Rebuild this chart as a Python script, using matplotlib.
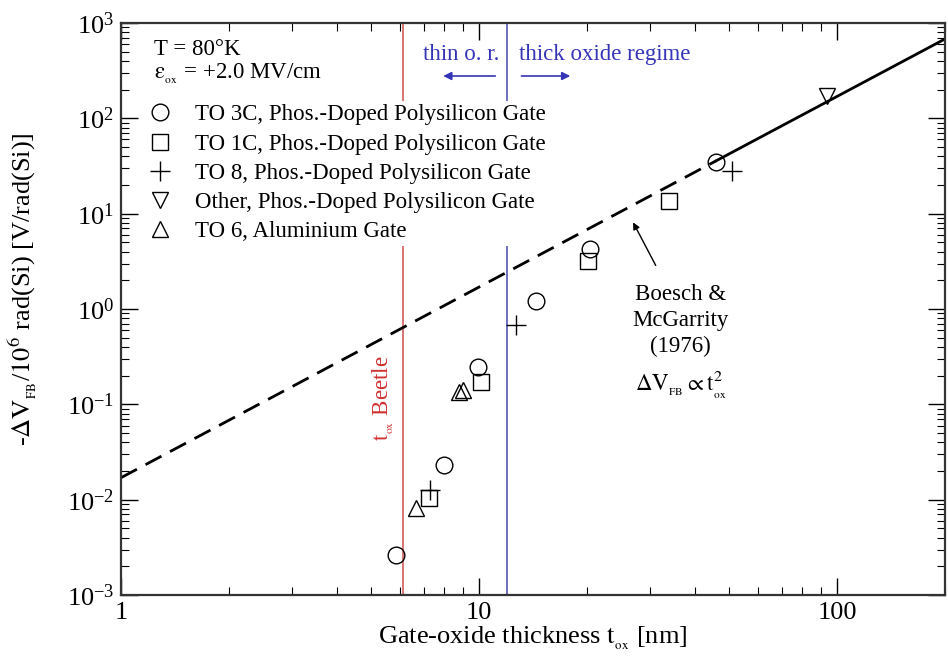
import numpy as np
import matplotlib as mpl
mpl.use('Agg')
import matplotlib.pyplot as plt

plt.rcParams['font.family'] = ['Liberation Serif', 'DejaVu Serif']
plt.rcParams['mathtext.fontset'] = 'stix'

# data (t_ox in nm, -dV_FB per Mrad in V)
to3c_x = [5.85, 8.0, 9.95, 14.4, 20.4, 46.0]
to3c_y = [0.0026, 0.023, 0.245, 1.2, 4.3, 35.0]
to1c_x = [7.25, 10.1, 20.1, 34.0]
to1c_y = [0.0105, 0.17, 3.2, 13.5]
to8_x = [7.3, 12.7, 51.0]
to8_y = [0.0125, 0.68, 28.0]
other_x = [93.5]
other_y = [170.0]
to6_x = [6.65, 8.8, 9.0]
to6_y = [0.0082, 0.135, 0.14]

# Boesch & McGarrity fit: dV ~ C * t^2
fit_c = 0.017
fit_dash_x = [1.0, 46.0]
fit_solid_x = [46.0, 200.0]

t_beetle = 6.15
t_thick = 12.0

fig = plt.figure(figsize=(9.48, 6.61), dpi=100)
ax = fig.add_axes([0.1276, 0.0998, 0.8692, 0.8654])
ax.set_xscale('log')
ax.set_yscale('log')
ax.set_xlim(1, 200)
ax.set_ylim(1e-3, 1e3)

xd = np.geomspace(*fit_dash_x, 50)
xs = np.geomspace(*fit_solid_x, 50)
ax.plot(xd, fit_c * xd**2, color='black', lw=2, ls=(0, (6.5, 3.5)), zorder=2)
ax.plot(xs, fit_c * xs**2, color='black', lw=2, zorder=2)

ax.axvline(t_beetle, color='#d05050', lw=1.1, zorder=1)
ax.axvline(t_thick, color='#4848b0', lw=1.1, zorder=1)

mk = dict(mfc='none', mec='black', mew=1.0, ls='none', ms=12, zorder=3)
ax.plot(to3c_x, to3c_y, marker='o', label='TO 3C, Phos.-Doped Polysilicon Gate', **mk)
ax.plot(to1c_x, to1c_y, marker='s', label='TO 1C, Phos.-Doped Polysilicon Gate', **dict(mk, ms=11))
ax.plot(to8_x, to8_y, marker='+', label='TO 8, Phos.-Doped Polysilicon Gate', **dict(mk, ms=14))
ax.plot(other_x, other_y, marker='v', label='Other, Phos.-Doped Polysilicon Gate', **mk)
ax.plot(to6_x, to6_y, marker='^', label='TO 6, Aluminium Gate', **mk)

leg = ax.legend(loc='upper left', bbox_to_anchor=(0.027, 0.864), frameon=True,
                fontsize=16.5, handlelength=1.2, handletextpad=0.9,
                labelspacing=0.36, borderpad=0.15, borderaxespad=0)
leg.get_frame().set_facecolor('white')
leg.get_frame().set_edgecolor('none')
leg.get_frame().set_alpha(1)
leg.set_zorder(5)

ax.text(0.04, 0.953, 'T = 80°K', transform=ax.transAxes, fontsize=16.5, va='center')
ax.text(0.04, 0.911, r'$\mathrm{\varepsilon_{_{ox}}}$ = +2.0 MV/cm', transform=ax.transAxes,
        fontsize=16.5, va='center')

blue = '#3535b8'
ax.text(11.4, 462, 'thin o. r.', color=blue, fontsize=16.5, ha='right', va='center')
ax.text(12.9, 462, 'thick oxide regime', color=blue, fontsize=16.5, ha='left', va='center')
ax.annotate('', xy=(7.8, 278), xytext=(11.3, 278),
            arrowprops=dict(arrowstyle='-|>', color=blue, lw=1.2, mutation_scale=12))
ax.annotate('', xy=(18.3, 278), xytext=(12.9, 278),
            arrowprops=dict(arrowstyle='-|>', color=blue, lw=1.2, mutation_scale=12))

ax.text(5.4, 0.116, r'$\mathrm{t_{_{ox}}}$ Beetle', color='#d03030', fontsize=16.5,
        rotation=90, ha='center', va='center')

ax.annotate('', xy=(26.7, 8.6), xytext=(31.4, 2.7),
            arrowprops=dict(arrowstyle='-|>', color='black', lw=1.0, mutation_scale=10))
ax.text(36.5, 0.76, 'Boesch &\nMcGarrity\n(1976)', fontsize=16.5, ha='center', va='center',
        linespacing=1.3)
ax.text(36.5, 0.16, r'$\mathrm{\Delta V_{_{FB}} \propto t^2_{_{ox}}}$', fontsize=16.5,
        ha='center', va='center')

ax.set_xlabel(r'Gate-oxide thickness $\mathrm{t_{_{ox}}}$ [nm]', fontsize=19, labelpad=1)
ax.set_ylabel(r'-$\mathrm{\Delta V_{_{FB}}}$/$\mathrm{10^6}$ rad(Si) [V/rad(Si)]',
              fontsize=19)
ax.yaxis.set_label_coords(-0.1, 0.535)

ax.xaxis.set_major_formatter(mpl.ticker.FuncFormatter(lambda v, p: '%g' % v))
ax.tick_params(which='both', direction='in', top=True, right=True, labelsize=19)
ax.tick_params(which='major', length=12, width=1.0, pad=5)
ax.tick_params(which='minor', length=6, width=0.8)
ax.yaxis.set_minor_locator(mpl.ticker.LogLocator(base=10, subs=np.arange(2, 10), numticks=20))
for s in ax.spines.values():
    s.set_linewidth(1.6)
    s.set_color('#333333')

fig.savefig('out.png', dpi=100)
